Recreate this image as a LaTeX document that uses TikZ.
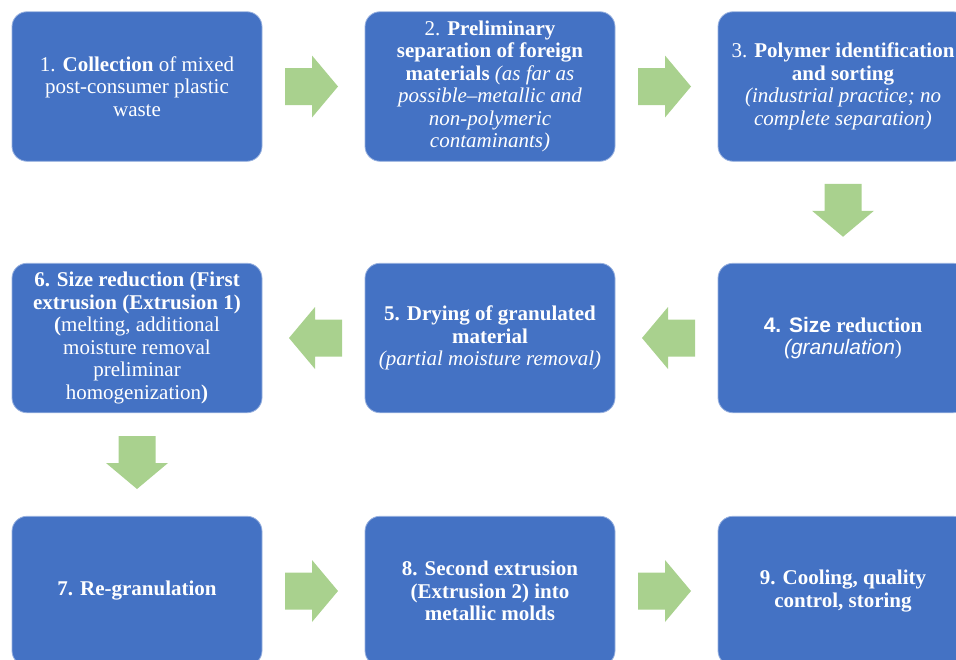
\documentclass[tikz,border=0pt]{standalone}
\usepackage{fontspec}
\setmainfont{Liberation Serif}
\setsansfont{Liberation Sans}
\usetikzlibrary{calc}
\definecolor{boxblue}{HTML}{4472C4}
\definecolor{arrgreen}{HTML}{A9D18E}
\tikzset{
  stepbox/.style={rectangle, rounded corners=15pt, fill=boxblue, draw=boxblue!55!white,
    line width=0.8pt, minimum width=250pt, minimum height=149.5pt, text=white,
    align=center, font=\fontsize{21}{22.5}\selectfont, inner sep=0pt},
  blockarr/.pic={\fill[arrgreen] (-28.5,-18.5) -- (-1.5,-18.5) -- (-1.5,-31) -- (24.5,0)
    -- (-1.5,31) -- (-1.5,18.5) -- (-28.5,18.5) -- cycle;}
}
\begin{document}
\begin{tikzpicture}[x=1pt,y=1pt]
\useasboundingbox (0,0) rectangle (956,-659);
\clip (0,0) rectangle (956,-659);
% row 1
\node[stepbox] (n1) at (137,-86.5) {1. \textbf{Collection} of mixed\\post-consumer plastic\\waste};
\node[stepbox] (n2) at (490,-86.5) {2. \textbf{Preliminary}\\\textbf{separation of foreign}\\\textbf{materials} \textit{(as far as}\\\textit{possible–metallic and}\\\textit{non-polymeric}\\\textit{contaminants)}};
\node[stepbox] (n3) at (843,-86.5) {3. \textbf{Polymer identification}\\\textbf{and sorting}\\\textit{(industrial practice; no}\\\textit{complete separation)}};
% row 2
\node[stepbox] (n4) at (843,-338) {\textsf{\bfseries 4. Size} \textbf{reduction}\\\textsf{\itshape (granulation})};
\node[stepbox] (n5) at (490,-338) {\textbf{5. Drying of granulated}\\\textbf{material}\\\textit{(partial moisture removal)}};
\node[stepbox] (n6) at (137,-338) {\textbf{6. Size reduction (First}\\\textbf{extrusion (Extrusion 1)}\\\textbf{(}melting, additional\\moisture removal\\preliminar\\homogenization\textbf{)}};
% row 3
\node[stepbox] (n7) at (137,-591) {\textbf{7. Re-granulation}};
\node[stepbox] (n8) at (490,-591) {\textbf{8. Second extrusion}\\\textbf{(Extrusion 2) into}\\\textbf{metallic molds}};
\node[stepbox] (n9) at (843,-591) {\textbf{9. Cooling, quality}\\\textbf{control, storing}};
% arrows
\pic at ($(n1.east)!0.5!(n2.west)$) {blockarr};
\pic at ($(n2.east)!0.5!(n3.west)$) {blockarr};
\pic[rotate=-90] at ($(n3.south)!0.5!(n4.north)$) {blockarr};
\pic[rotate=180] at ($(n4.west)!0.5!(n5.east)$) {blockarr};
\pic[rotate=180] at ($(n5.west)!0.5!(n6.east)$) {blockarr};
\pic[rotate=-90] at ($(n6.south)!0.5!(n7.north)$) {blockarr};
\pic at ($(n7.east)!0.5!(n8.west)$) {blockarr};
\pic at ($(n8.east)!0.5!(n9.west)$) {blockarr};
\end{tikzpicture}
\end{document}
